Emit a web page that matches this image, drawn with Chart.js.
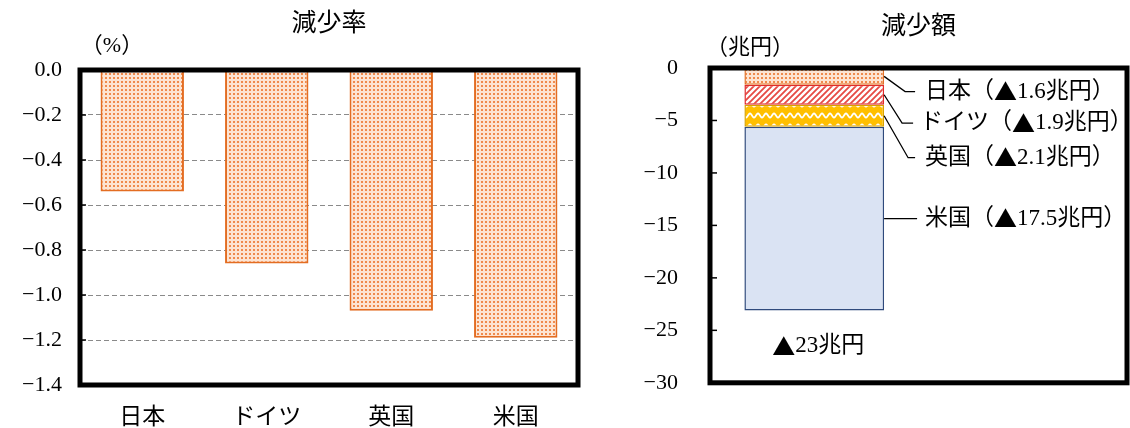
<!DOCTYPE html>
<html lang="ja">
<head>
<meta charset="utf-8">
<title>減少率・減少額</title>
<script src="https://cdn.jsdelivr.net/npm/chart.js@4.4.1/dist/chart.umd.min.js"></script>
<style>
  html, body { margin: 0; padding: 0; background: #fff; }
  #wrap { position: relative; width: 1130px; height: 428px; overflow: hidden; }
  #rateBox { position: absolute; left: 0; top: 0; width: 600px; height: 428px; }
  #amountBox { position: absolute; left: 600px; top: 0; width: 530px; height: 428px; }
</style>
</head>
<body>
<div id="wrap">
  <div id="rateBox"><canvas id="rateChart" width="600" height="428"></canvas></div>
  <div id="amountBox"><canvas id="amountChart" width="530" height="428"></canvas></div>
</div>
<script>
// ---- data ----
const countries = ['日本', 'ドイツ', '英国', '米国'];
const declineRatePct = [-0.54, -0.86, -1.07, -1.19];          // 減少率 (%)
const rateTicks = [0, -0.2, -0.4, -0.6, -0.8, -1.0, -1.2, -1.4];
const declineAmount = [-1.6, -1.9, -2.1, -17.5];                // 減少額 (兆円)
const amountTicks = [0, -5, -10, -15, -20, -25, -30];

// ---- styling ----
const FONT = "'Liberation Serif', 'Noto Sans CJK JP', serif";
const CJK = "'Noto Sans CJK JP', sans-serif";
Chart.defaults.font.family = FONT;
Chart.defaults.color = '#000';

function makePattern(w, h, paint) {
  const c = document.createElement('canvas');
  c.width = w; c.height = h;
  const g = c.getContext('2d');
  paint(g, w, h);
  return g.createPattern(c, 'repeat');
}
const dotFill = makePattern(4, 4, (g) => {
  g.fillStyle = '#fde4d2'; g.fillRect(0, 0, 4, 4);
  g.fillStyle = '#f08a4c'; g.fillRect(1, 1, 2, 2);
});
const stripeFill = makePattern(6, 6, (g, s) => {
  g.fillStyle = '#ffffff'; g.fillRect(0, 0, s, s);
  g.strokeStyle = '#e64a44'; g.lineWidth = 1.8;
  g.beginPath();
  g.moveTo(-1, s + 1); g.lineTo(s + 1, -1);
  g.moveTo(-1, 1); g.lineTo(1, -1);
  g.moveTo(s - 1, s + 1); g.lineTo(s + 1, s - 1);
  g.stroke();
});
const waveFill = makePattern(8, 11, (g, w, h) => {
  g.fillStyle = '#ffbf00'; g.fillRect(0, 0, w, h);
  g.strokeStyle = '#ffffff'; g.lineWidth = 1.8;
  g.beginPath();
  for (let x = -1; x <= w + 1; x += 0.5) {
    const yy = 5.5 + 2 * Math.sin(2 * Math.PI * x / w);
    if (x === -1) g.moveTo(x, yy); else g.lineTo(x, yy);
  }
  g.stroke();
});

const segmentFills = [dotFill, stripeFill, waveFill, '#dae3f3'];
const segmentEdges = ['#e2732a', '#e02b2b', '#d9a300', '#2f4a7c'];

// leader label rows (value units on the 兆円 axis); null = segment middle
const leaderAt = [-2.25, -5.25, -8.55, null];
const leaderShape = [
  { elbow: 21, end: 31, text: 41 },
  { elbow: 18, end: 29, text: 36 },
  { elbow: 24, end: 31, text: 41 },
  { elbow: 0,  end: 33, text: 41 }
];

// text with the ▲ mark drawn in the CJK face so it keeps its full width
function drawRuns(ctx, text, x, y, size, align) {
  const runs = [];
  for (const ch of text) {
    const face = ch === '▲' ? CJK : FONT;
    if (runs.length && runs[runs.length - 1].face === face) runs[runs.length - 1].s += ch;
    else runs.push({ face, s: ch });
  }
  let total = 0;
  runs.forEach((r) => { ctx.font = `${size}px ${r.face}`; r.w = ctx.measureText(r.s).width; total += r.w; });
  let cx = align === 'center' ? x - total / 2 : x;
  ctx.textAlign = 'left';
  runs.forEach((r) => { ctx.font = `${size}px ${r.face}`; ctx.fillText(r.s, cx, y); cx += r.w; });
}

// thick frame around the plot area plus short inward ticks
function framePlugin(tickLen) {
  return {
    id: 'frame',
    afterDatasetsDraw(chart) {
      const { ctx, chartArea: a, scales: { y } } = chart;
      ctx.save();
      ctx.strokeStyle = '#000';
      ctx.lineWidth = 1.5;
      y.ticks.forEach((t) => {
        const p = y.getPixelForValue(t.value);
        if (p > a.top + 3 && p < a.bottom - 3) {
          ctx.beginPath(); ctx.moveTo(a.left, p); ctx.lineTo(a.left + tickLen, p); ctx.stroke();
        }
      });
      ctx.lineWidth = 5;
      ctx.lineJoin = 'miter';
      ctx.strokeRect(a.left, a.top, a.right - a.left, a.bottom - a.top);
      ctx.restore();
    }
  };
}

// chart title and unit caption
function headerPlugin(title, titleY, unit, unitX, unitY) {
  return {
    id: 'header',
    afterDraw(chart) {
      const { ctx, chartArea: a } = chart;
      ctx.save();
      ctx.fillStyle = '#000';
      ctx.textAlign = 'center';
      ctx.textBaseline = 'middle';
      ctx.font = `25px ${FONT}`;
      ctx.fillText(title, (a.left + a.right) / 2, titleY);
      ctx.font = `22px ${FONT}`;
      ctx.fillText(unit, unitX, unitY);
      ctx.restore();
    }
  };
}

// ---- 減少率 ----
new Chart(document.getElementById('rateChart'), {
  type: 'bar',
  data: {
    labels: countries,
    datasets: [{
      data: declineRatePct,
      backgroundColor: dotFill,
      borderColor: '#e36d22',
      borderWidth: 2,
      barPercentage: 0.67,
      categoryPercentage: 1
    }]
  },
  options: {
    responsive: false,
    animation: false,
    events: [],
    layout: { padding: { left: 0, right: 22, top: 70, bottom: 0 } },
    plugins: { legend: { display: false }, tooltip: { enabled: false } },
    scales: {
      x: {
        grid: { display: false, drawTicks: false },
        border: { display: false },
        ticks: { font: { size: 23 }, padding: 19, maxRotation: 0 },
        afterFit(s) { s.height = 43; }
      },
      y: {
        min: Math.min(...rateTicks),
        max: Math.max(...rateTicks),
        afterBuildTicks(s) { s.ticks = rateTicks.map((v) => ({ value: v })); },
        grid: { color: '#8a8a8a', lineWidth: 1, drawTicks: false },
        border: { display: false, dash: [5, 3] },
        ticks: {
          font: { size: 22 },
          padding: 18,
          callback: (v) => (v < 0 ? '−' : '') + Math.abs(v).toFixed(1)
        },
        afterFit(s) { s.width = 80; }
      }
    }
  },
  plugins: [framePlugin(6), headerPlugin('減少率', 24, '（%）', 112, 46)]
});

// ---- 減少額 ----
const leaderPlugin = {
  id: 'leaders',
  afterDatasetsDraw(chart) {
    const { ctx, scales: { y } } = chart;
    ctx.save();
    ctx.strokeStyle = '#000';
    ctx.fillStyle = '#000';
    ctx.lineWidth = 1.3;
    ctx.textBaseline = 'middle';
    let centerX = 0;
    chart.data.datasets.forEach((ds, i) => {
      const bar = chart.getDatasetMeta(i).data[0];
      const right = bar.x + bar.width / 2;
      const mid = (bar.y + bar.base) / 2;
      const ly = leaderAt[i] == null ? mid : y.getPixelForValue(leaderAt[i]);
      const sh = leaderShape[i];
      ctx.beginPath();
      ctx.moveTo(right, mid);
      ctx.lineTo(right + sh.elbow, ly);
      ctx.lineTo(right + sh.end, ly);
      ctx.stroke();
      const v = declineAmount[i];
      drawRuns(ctx, `${countries[i]}（▲${Math.abs(v).toFixed(1)}兆円）`, right + sh.text, ly, 23, 'left');
      centerX = bar.x;
    });
    const total = declineAmount.reduce((a, b) => a + b, 0);
    drawRuns(ctx, `▲${Math.round(Math.abs(total))}兆円`, centerX + 4, y.getPixelForValue(total) + 36, 23, 'center');
    ctx.restore();
  }
};

new Chart(document.getElementById('amountChart'), {
  type: 'bar',
  data: {
    labels: ['', ''],
    datasets: countries.map((name, i) => ({
      label: name,
      data: [declineAmount[i], null],
      backgroundColor: segmentFills[i],
      borderColor: segmentEdges[i],
      borderWidth: 1.5,
      borderSkipped: false,
      barPercentage: 0.67,
      categoryPercentage: 1
    }))
  },
  options: {
    responsive: false,
    animation: false,
    events: [],
    layout: { padding: { left: 0, right: 3, top: 68, bottom: 0 } },
    plugins: { legend: { display: false }, tooltip: { enabled: false } },
    scales: {
      x: {
        stacked: true,
        grid: { display: false, drawTicks: false },
        border: { display: false },
        ticks: { display: false },
        afterFit(s) { s.height = 41; }
      },
      y: {
        stacked: true,
        min: Math.min(...amountTicks),
        max: Math.max(...amountTicks),
        afterBuildTicks(s) { s.ticks = amountTicks.map((v) => ({ value: v })); },
        grid: { display: false, drawTicks: false },
        border: { display: false },
        ticks: {
          font: { size: 22 },
          padding: 32,
          callback: (v) => (v < 0 ? '−' : '') + Math.abs(v)
        },
        afterFit(s) { s.width = 110; }
      }
    }
  },
  plugins: [framePlugin(7), leaderPlugin, headerPlugin('減少額', 27, '（兆円）', 150, 48)]
});
</script>
</body>
</html>
